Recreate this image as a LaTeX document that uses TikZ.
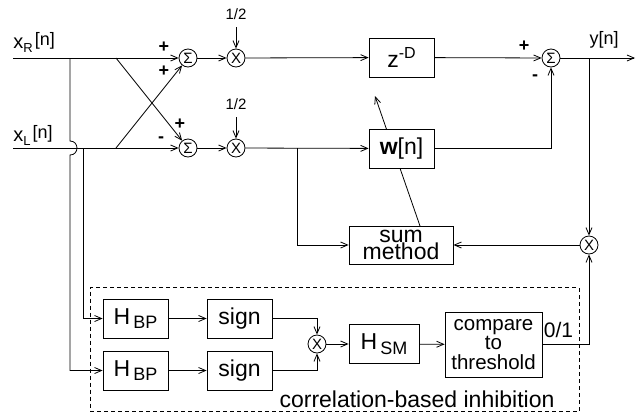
\documentclass[tikz,border=0pt]{standalone}
\usepackage{fontspec}
\setmainfont{Liberation Sans}
\usetikzlibrary{arrows.meta}
\newcommand{\tightlines}{\lineskiplimit=-20pt\relax}
\begin{document}
\begin{tikzpicture}[x=1pt,y=-1pt,line width=0.8pt,
  >={Straight Barb[length=7pt,width=6pt]},
  blk/.style={draw,fill=white,inner sep=0pt,minimum width=65pt,minimum height=39pt,font=\fontsize{23}{23}\selectfont},
  op/.style={draw,fill=white,circle,inner sep=0pt,minimum size=18pt,font=\fontsize{15}{15}\selectfont},
  sgn/.style={inner sep=0pt,font=\fontsize{18}{18}\selectfont\bfseries},
  lbl/.style={inner sep=0pt,anchor=base}]
\useasboundingbox (0,0) rectangle (642,413);

% operators
\node[op] (s1) at (188,58) {Σ};
\node[op] (m1) at (236,58) {X};
\node[op] (s2) at (188,148) {Σ};
\node[op] (m2) at (236,148) {X};
\node[op] (s3) at (551,58) {Σ};
\node[op] (m3) at (589,245) {X};
\node[op] (m4) at (317,344) {X};

% inhibition frame
\node[draw,dashed,dash pattern=on 4pt off 3pt,minimum width=489pt,minimum height=124pt,inner sep=0pt] (inh) at (334.5,349.5) {};

% blocks
\node[blk] (zd) at (401.5,57.5) {z\raisebox{8.5pt}{\fontsize{16}{16}\selectfont -D}};
\node[blk,minimum width=104pt,minimum height=38pt,align=center,font=\fontsize{23}{17}\selectfont\tightlines] (sm) at (401,245) {sum\\method};
\node[blk] (h1) at (135.5,318.5) {H\hspace{3pt}\raisebox{-4.5pt}{\fontsize{18}{18}\selectfont BP}};
\node[blk] (h2) at (135.5,370.5) {H\hspace{3pt}\raisebox{-4.5pt}{\fontsize{18}{18}\selectfont BP}};
\node[blk] (sg1) at (239.5,318.5) {sign};
\node[blk] (sg2) at (239.5,370.5) {sign};
\node[blk,minimum width=70pt] (hsm) at (384,344) {H\hspace{3pt}\raisebox{-4.5pt}{\fontsize{18}{18}\selectfont SM}};
\node[blk,minimum width=97pt,minimum height=65pt,align=center,font=\fontsize{20.5}{19.5}\selectfont\tightlines] (cmp) at (493.5,344.5) {compare\\to\\threshold};

% labels
\node[lbl,anchor=base west,font=\fontsize{20}{20}\selectfont] (xr) at (13,48) {x\raisebox{-4pt}{\fontsize{13}{13}\selectfont R}\hspace{2pt}\raisebox{3pt}{\fontsize{18}{18}\selectfont [n]}};
\node[lbl,anchor=base west,font=\fontsize{20}{20}\selectfont] (xl) at (13,141) {x\raisebox{-4pt}{\fontsize{13}{13}\selectfont L}\hspace{2pt}\raisebox{3pt}{\fontsize{18}{18}\selectfont [n]}};
\node[lbl,font=\fontsize{15}{15}\selectfont] (hf1) at (236,19) {1/2};
\node[lbl,font=\fontsize{15}{15}\selectfont] (hf2) at (236,109) {1/2};
\node[lbl,font=\fontsize{18}{18}\selectfont] (yn) at (604,44) {y[n]};
\node[lbl,font=\fontsize{21}{21}\selectfont] (zo) at (558.5,337) {0/1};
\node[lbl,font=\fontsize{23}{23}\selectfont] (cbi) at (417,407) {correlation-based inhibition};

% signs
\node[sgn] (p1) at (164,47) {+};
\node[sgn] (p2) at (164,71) {+};
\node[sgn] (p3) at (180,124) {+};
\node[sgn] (n3) at (161,140) {-};
\node[sgn] (p4) at (524,46) {+};
\node[sgn] (n4) at (535,78) {-};

% coordinates
\coordinate (xRin) at (13,58);
\coordinate (xLin) at (13,148);
\coordinate (cR) at (116,58);
\coordinate (cL) at (116,148);
\coordinate (vR) at (70,58);
\coordinate (vL) at (83,148);
\coordinate (hopT) at (70,141);
\coordinate (hopB) at (70,155);
\coordinate (a1) at (236,27);
\coordinate (a2) at (236,117);
\coordinate (bw) at (297,148);
\coordinate (by) at (589,58);
\coordinate (yout) at (635,58);
\coordinate (adbase) at (420,226);
\coordinate (adtip) at (375,96);

% adaptation arrow (behind w box)
\draw[->] (adbase) -- (adtip);
\node[blk,font=\fontsize{23}{23}\selectfont] (w) at (401.5,148.5) {\textbf{w}[n]};

% connectors
\draw[->] (xRin) -- (s1);
\draw[->] (xLin) -- (s2);
\draw[->] (cR) -- (s2);
\draw[->] (cL) -- (s1);
\draw[->] (vR) -- (hopT) .. controls +(9.3,0) and +(9.3,0) .. (hopB) |- (h2);
\draw[->] (vL) |- (h1);
\draw[->] (a1) -- (m1);
\draw[->] (a2) -- (m2);
\draw[->] (s1) -- (m1);
\draw[->] (s2) -- (m2);
\draw[->] (m1) -- (zd);
\draw[->] (m2) -- (w);
\draw[->] (zd) -- (s3);
\draw[->] (w) -| (s3);
\draw[->] (s3) -- (yout);
\draw[->] (by) -- (m3);
\draw[->] (m3) -- (sm);
\draw[->] (bw) |- (sm);
\draw[->] (h1) -- (sg1);
\draw[->] (h2) -- (sg2);
\draw[->] (sg1) -| (m4);
\draw[->] (sg2) -| (m4);
\draw[->] (m4) -- (hsm);
\draw[->] (hsm) -- (cmp);
\draw[->] (cmp) -| (m3);
\end{tikzpicture}
\end{document}
